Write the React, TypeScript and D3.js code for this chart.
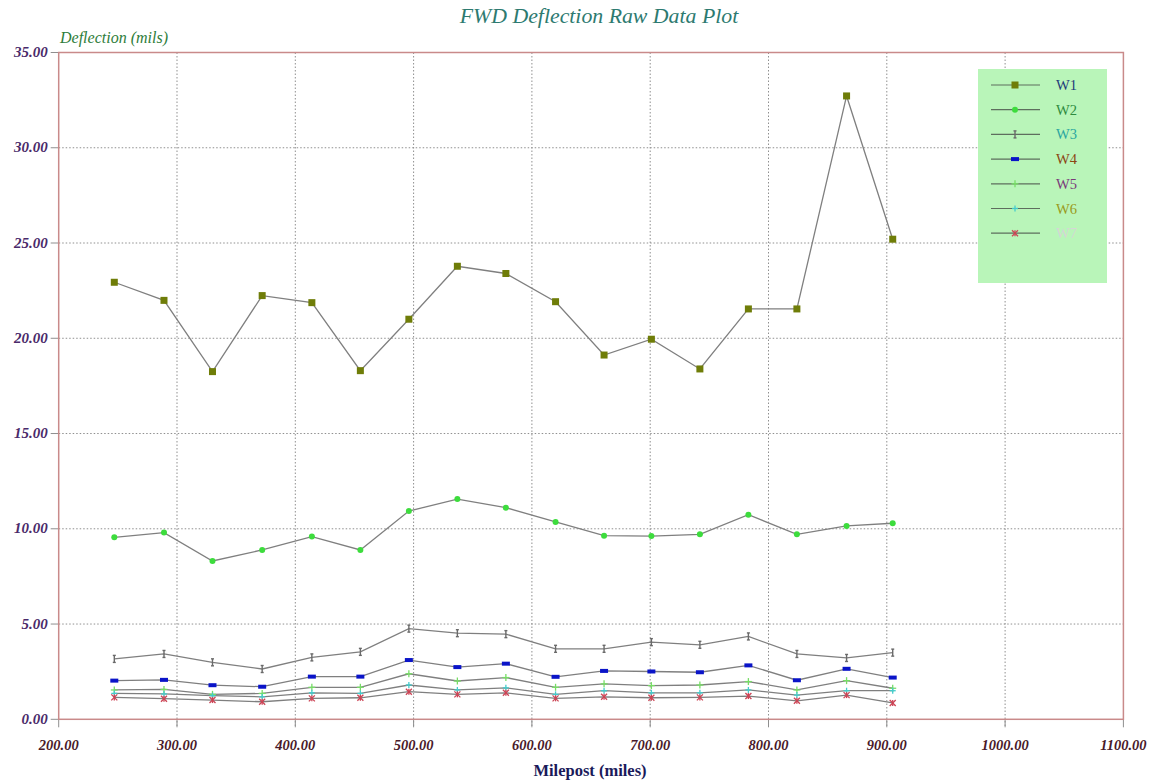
import React from "react";
import * as d3 from "d3";

const mileposts = [247, 289, 330, 372, 414, 455, 496, 537, 578, 620, 661, 701, 742, 783, 824, 866, 905];
const W1 = [22.94, 21.99, 18.25, 22.24, 21.87, 18.3, 21.0, 23.78, 23.4, 21.92, 19.12, 19.95, 18.39, 21.54, 21.54, 32.72, 25.2];
const W2 = [9.55, 9.8, 8.31, 8.89, 9.59, 8.89, 10.93, 11.56, 11.11, 10.36, 9.64, 9.62, 9.71, 10.74, 9.71, 10.15, 10.29];
const W3 = [3.17, 3.43, 2.99, 2.64, 3.25, 3.54, 4.76, 4.52, 4.47, 3.7, 3.7, 4.05, 3.91, 4.35, 3.43, 3.22, 3.5];
const W4 = [2.03, 2.07, 1.79, 1.71, 2.24, 2.24, 3.11, 2.74, 2.92, 2.23, 2.54, 2.51, 2.47, 2.83, 2.05, 2.65, 2.19];
const W5 = [1.54, 1.57, 1.31, 1.36, 1.68, 1.68, 2.39, 2.01, 2.19, 1.68, 1.86, 1.77, 1.8, 1.98, 1.54, 2.03, 1.63];
const W6 = [1.36, 1.33, 1.24, 1.18, 1.39, 1.36, 1.8, 1.54, 1.65, 1.31, 1.5, 1.39, 1.39, 1.54, 1.27, 1.5, 1.5];
const W7 = [1.15, 1.08, 1.01, 0.92, 1.1, 1.13, 1.45, 1.31, 1.39, 1.1, 1.18, 1.13, 1.15, 1.22, 0.97, 1.27, 0.86];

const seriesNames = ["W1", "W2", "W3", "W4", "W5", "W6", "W7"];
const seriesValues = [W1, W2, W3, W4, W5, W6, W7];
const markerColors = ["#6f7d08", "#3ddc3d", "#6a6a6a", "#0a14c8", "#77dd66", "#44cccc", "#cc4455"];
const labelColors = ["#1e3c7a", "#2e8b3e", "#2aa5a0", "#8b4513", "#7a3a7a", "#9a9a20", "#d6d6d6"];

const xTicks = [200, 300, 400, 500, 600, 700, 800, 900, 1000, 1100];
const yTicks = [0, 5, 10, 15, 20, 25, 30, 35];

const FONT = "'Liberation Serif', 'Times New Roman', serif";

function Marker({ i, x, y }: { i: number; x: number; y: number }) {
  const c = markerColors[i];
  switch (i) {
    case 0:
      return <rect x={x - 3.5} y={y - 3.5} width={7} height={7} fill={c} />;
    case 1:
      return <circle cx={x} cy={y} r={3} fill={c} />;
    case 2:
      return (
        <g stroke={c} strokeWidth={1.4}>
          <line x1={x} y1={y - 3.5} x2={x} y2={y + 3.5} />
          <line x1={x - 1.5} y1={y - 3.5} x2={x + 1.5} y2={y - 3.5} />
          <line x1={x - 1.5} y1={y + 3.5} x2={x + 1.5} y2={y + 3.5} />
        </g>
      );
    case 3:
      return <rect x={x - 4} y={y - 2} width={8} height={4} fill={c} />;
    case 4:
      return (
        <g stroke={c} strokeWidth={1.3}>
          <line x1={x - 3.5} y1={y} x2={x + 3.5} y2={y} />
          <line x1={x} y1={y - 3.5} x2={x} y2={y + 3.5} />
        </g>
      );
    case 5:
      return (
        <g stroke={c} strokeWidth={1.3}>
          <line x1={x - 3} y1={y} x2={x + 3} y2={y} />
          <line x1={x} y1={y - 3} x2={x} y2={y + 3} />
        </g>
      );
    default:
      return (
        <g stroke={c} strokeWidth={1.3}>
          <line x1={x - 3} y1={y - 3} x2={x + 3} y2={y + 3} />
          <line x1={x - 3} y1={y + 3} x2={x + 3} y2={y - 3} />
          <line x1={x} y1={y - 3} x2={x} y2={y + 3} />
        </g>
      );
  }
}

export default function App() {
  const width = 1149;
  const height = 780;
  const left = 58.7;
  const right = 1123.4;
  const top = 52.5;
  const bottom = 719.3;

  const x = d3.scaleLinear().domain([200, 1100]).range([left, right]);
  const y = d3.scaleLinear().domain([0, 35]).range([bottom, top]);

  const line = d3
    .line<number>()
    .x((_, i) => x(mileposts[i]))
    .y((d) => y(d));

  const axisColor = "#c98a8a";
  const gridColor = "#8f8f8f";

  const legX = 978;
  const legY = 69;
  const legW = 129;
  const legH = 214;
  const rowY = (i: number) => 85 + i * 24.7;

  return (
    <svg
      width={width}
      height={height}
      style={{ position: "absolute", left: 0, top: 0, background: "#fff" }}
    >
      <rect x={0} y={0} width={width} height={height} fill="#fff" />
      {/* Title */}
      <text
        x={599}
        y={23}
        textAnchor="middle"
        fontFamily={FONT}
        fontStyle="italic"
        fontSize={21.8}
        fill="#2d7a70"
      >
        FWD Deflection Raw Data Plot
      </text>
      <text x={60} y={43} fontFamily={FONT} fontStyle="italic" fontSize={16} fill="#2e7d3a">
        Deflection (mils)
      </text>

      {/* grid */}
      {xTicks.slice(1, -1).map((t) => (
        <line
          key={"gx" + t}
          x1={x(t)}
          x2={x(t)}
          y1={top}
          y2={bottom + 8}
          stroke={gridColor}
          strokeWidth={1}
          strokeDasharray="1.5,2"
        />
      ))}
      {yTicks.slice(1, -1).map((t) => (
        <line
          key={"gy" + t}
          x1={left}
          x2={right}
          y1={y(t)}
          y2={y(t)}
          stroke={gridColor}
          strokeWidth={1}
          strokeDasharray="1.5,2"
        />
      ))}
      {/* ticks */}
      {xTicks.map((t) => (
        <line key={"tx" + t} x1={x(t)} x2={x(t)} y1={bottom} y2={bottom + 8} stroke={gridColor} strokeWidth={1} />
      ))}
      {yTicks.map((t) => (
        <line key={"ty" + t} x1={left - 8} x2={left} y1={y(t)} y2={y(t)} stroke={gridColor} strokeWidth={1} />
      ))}

      {/* frame */}
      <rect
        x={left}
        y={top}
        width={right - left}
        height={bottom - top}
        fill="none"
        stroke={axisColor}
        strokeWidth={1.5}
      />

      {/* tick labels */}
      {yTicks.map((t) => (
        <text
          key={"ly" + t}
          x={left - 11}
          y={y(t) + 4.5}
          textAnchor="end"
          fontFamily={FONT}
          fontStyle="italic"
          fontWeight="bold"
          fontSize={15}
          fill="#4a2a6a"
        >
          {t.toFixed(2)}
        </text>
      ))}
      {xTicks.map((t) => (
        <text
          key={"lx" + t}
          x={x(t)}
          y={750}
          textAnchor="middle"
          fontFamily={FONT}
          fontStyle="italic"
          fontWeight="bold"
          fontSize={14.5}
          fill="#4a1a2a"
        >
          {t.toFixed(2)}
        </text>
      ))}
      <text
        x={590}
        y={776}
        textAnchor="middle"
        fontFamily={FONT}
        fontWeight="bold"
        fontSize={16.5}
        fill="#1a1a5a"
      >
        Milepost (miles)
      </text>

      {/* series */}
      {seriesValues.map((vals, si) => (
        <g key={"s" + si}>
          <path d={line(vals) || ""} fill="none" stroke="#7f7f7f" strokeWidth={1.3} />
          {vals.map((v, i) => (
            <Marker key={i} i={si} x={x(mileposts[i])} y={y(v)} />
          ))}
        </g>
      ))}

      {/* legend */}
      <rect x={legX} y={legY} width={legW} height={legH} fill="#b9f5b9" />
      {seriesNames.map((n, i) => (
        <g key={"lg" + n}>
          <line x1={991} x2={1040} y1={rowY(i)} y2={rowY(i)} stroke="#5e6e5e" strokeWidth={1.2} />
          <Marker i={i} x={1015} y={rowY(i)} />
          <text
            x={1056}
            y={rowY(i) + 5}
            fontFamily={FONT}
            fontSize={14.5}
            fill={labelColors[i]}
          >
            {n}
          </text>
        </g>
      ))}
    </svg>
  );
}
